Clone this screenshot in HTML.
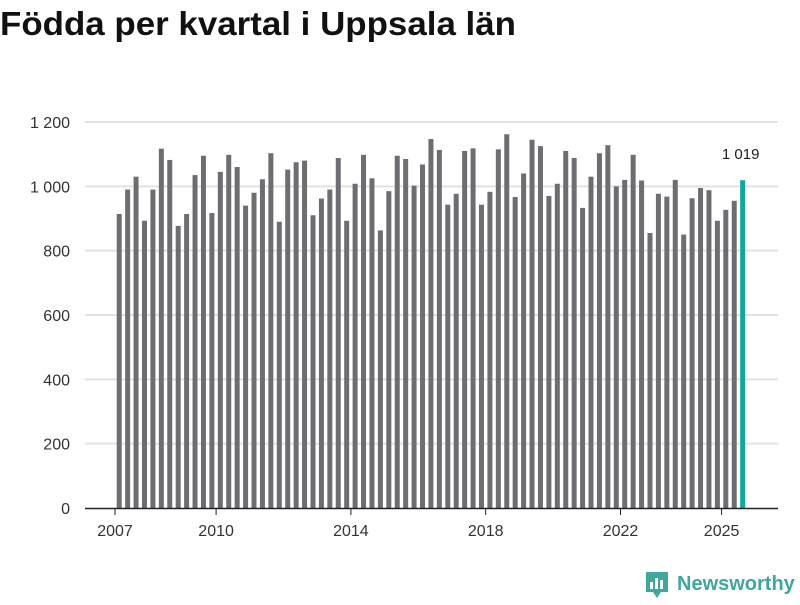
<!DOCTYPE html>
<html><head><meta charset="utf-8"><style>
body{margin:0;width:800px;height:600px;background:#fff;font-family:"Liberation Sans",sans-serif;overflow:hidden}
</style></head><body>
<svg width="800" height="600">
<text x="0" y="35" font-size="33" font-weight="bold" fill="#111" textLength="516" lengthAdjust="spacingAndGlyphs">Födda per kvartal i Uppsala län</text>
<g id="grid"></g><g id="bars"></g><g id="axes"></g>
<g>
<path d="M646 572h22v20h-7l-4 6-4-6h-7z" fill="#3fa79b"/>
<rect x="650" y="582" width="3" height="7" fill="#fff"/><rect x="655" y="578" width="3" height="11" fill="#fff"/><rect x="660" y="580" width="3" height="9" fill="#fff"/>
<text x="677" y="590" font-size="20" font-weight="bold" fill="#3fa79b">Newsworthy</text>
</g>
</svg>
<script>
const years=[2007,2008,2009,2010,2011,2012,2013,2014,2015,2016,2017,2018,2019,2020,2021,2022,2023,2024,2025];
const values=[914,990,1030,893, 990,1117,1082,877, 914,1035,1095,917, 1045,1098,1060,940, 980,1022,1103,890, 1052,1075,1080,910, 962,990,1088,893, 1008,1098,1025,863, 985,1095,1085,1002, 1068,1147,1113,943, 977,1110,1118,943, 983,1115,1162,967, 1040,1145,1125,970, 1008,1110,1088,933, 1030,1103,1128,1000, 1020,1098,1018,855, 977,968,1020,850, 963,995,988,893, 927,955,1019];
const yTicks=[0,200,400,600,800,1000,1200];
const xTicks=[2007,2010,2014,2018,2022,2025];
const NS="http://www.w3.org/2000/svg";
const y=v=>508-v*386/1200;
const x=t=>115+(t-2007)*33.7;
function mk(tag,attrs,parent){const e=document.createElementNS(NS,tag);for(const k in attrs)e.setAttribute(k,attrs[k]);document.getElementById(parent).appendChild(e);return e;}
yTicks.forEach(v=>{
 if(v>0){const l=mk('line',{x1:85,x2:778,y1:y(v),y2:y(v),stroke:'#e2e2e2','stroke-width':2},'grid');
 
 }
 const t=mk('text',{x:70,y:y(v)+6,'font-size':16,'text-anchor':'end',fill:'#333'},'axes');t.textContent=v>=1000?(Math.floor(v/1000)+' '+String(v%1000).padStart(3,'0')):v;
 
 
});
values.forEach((v,i)=>{
 const yr=years[Math.floor(i/4)],q=i%4,last=i===values.length-1;
 const cx=x(yr+q/4+0.125);
 const r=mk('rect',{x:cx-2.5,y:y(v),width:5,height:508-y(v),fill:last?'#10a89a':'#6e6d72'},'bars');
 
 
 if(last){const t=mk('text',{x:cx-2,y:y(v)-21,'font-size':15,'text-anchor':'middle',fill:'#222'},'axes');t.textContent=Math.floor(v/1000)+' '+String(v%1000).padStart(3,'0');
 
 }
});
const base=mk('line',{x1:85,x2:778,y1:508.5,y2:508.5,stroke:'#222','stroke-width':1.5},'axes');


xTicks.forEach(v=>{
 const tk=mk('line',{x1:x(v),x2:x(v),y1:509,y2:515,stroke:'#222'},'axes');
 
 
 const t=mk('text',{x:x(v),y:536,'font-size':16,'text-anchor':'middle',fill:'#333'},'axes');t.textContent=v;
 
 
});
</script>
</body></html>
